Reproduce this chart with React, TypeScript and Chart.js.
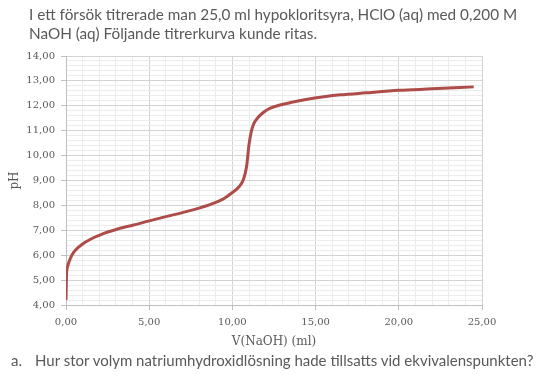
import React, { useEffect, useRef } from "react";
import { Chart, registerables } from "chart.js";

Chart.register(...registerables);

const volumes: number[] = [0, 0.03, 0.1, 0.25, 0.5, 1.0, 1.5, 2.0, 2.5, 3.0, 3.5, 4.0, 5.0, 6.0, 7.0, 8.0, 9.0, 9.5, 10.0, 10.4, 10.65, 10.85, 11.0, 11.15, 11.3, 11.5, 11.8, 12.2, 12.8, 13.5, 14.5, 15.5, 16.5, 18.0, 20.0, 22.0, 24.5];
const phValues: number[] = [4.2, 5.2, 5.55, 5.85, 6.15, 6.45, 6.65, 6.8, 6.93, 7.03, 7.12, 7.2, 7.38, 7.55, 7.71, 7.89, 8.12, 8.28, 8.52, 8.75, 9.02, 9.55, 10.45, 11.0, 11.3, 11.5, 11.7, 11.88, 12.02, 12.13, 12.26, 12.36, 12.44, 12.52, 12.62, 12.68, 12.76];

const xMin = 0, xMax = 25, xMajor = 5, xMinor = 1;
const yMin = 4, yMax = 14, yMajor = 1, yMinor = 0.2;

const titleLines = [
  "I ett försök titrerade man 25,0 ml hypokloritsyra, HClO (aq) med 0,200 M",
  "NaOH (aq) Följande titrerkurva kunde ritas.",
];
const xTitle = "V(NaOH) (ml)";
const yTitle = "pH";
const questionLabel = "a.";
const questionText = "Hur stor volym natriumhydroxidlösning hade tillsatts vid ekvivalenspunkten?";

const fmt = (v: number) => v.toFixed(2).replace(".", ",");
const isMajor = (v: number, step: number) => Math.abs(v / step - Math.round(v / step)) < 1e-6;

const MAJOR = "#d4d4d4";
const MINOR = "#ececec";
const AXIS = "#bfbfbf";
const TEXT = "#595959";
const SERIF = "'DejaVu Serif', serif";

export default function App() {
  const ref = useRef<HTMLCanvasElement | null>(null);

  useEffect(() => {
    if (!ref.current) return;
    const chart = new Chart(ref.current, {
      type: "line",
      data: {
        datasets: [
          {
            data: volumes.map((v, i) => ({ x: v, y: phValues[i] })),
            borderColor: "#ad4c49",
            borderWidth: 3,
            pointRadius: 0,
            cubicInterpolationMode: "monotone",
            fill: false,
          },
        ],
      },
      options: {
        animation: false,
        responsive: false,
        layout: { padding: { top: 56, right: 56, bottom: 24, left: 0 } },
        plugins: { legend: { display: false }, tooltip: { enabled: false } },
        scales: {
          x: {
            type: "linear",
            min: xMin,
            max: xMax,
            afterFit: (s: any) => { s.height = 48; },
            afterBuildTicks: (s: any) => {
              const t = [];
              for (let v = xMin; v <= xMax + 1e-9; v += xMinor) t.push({ value: Math.round(v * 1000) / 1000 });
              s.ticks = t;
            },
            ticks: {
              autoSkip: false,
              maxRotation: 0,
              padding: 6,
              color: TEXT,
              font: { family: SERIF, size: 10 },
              callback: (v: any) => (isMajor(Number(v), xMajor) ? fmt(Number(v)) : ""),
            },
            grid: {
              color: (c: any) => (isMajor(c.tick?.value ?? 0, xMajor) ? MAJOR : MINOR),
              tickColor: (c: any) => (isMajor(c.tick?.value ?? 0, xMajor) ? AXIS : "rgba(0,0,0,0)"),
              tickLength: 5,
            },
            border: { display: true, color: AXIS },
            title: {
              display: true,
              text: xTitle,
              color: TEXT,
              font: { family: SERIF, size: 12 },
              padding: { top: 0, bottom: 4 },
            },
          },
          y: {
            type: "linear",
            min: yMin,
            max: yMax,
            afterFit: (s: any) => { s.width = 66; },
            afterBuildTicks: (s: any) => {
              const t = [];
              for (let i = 0; i <= Math.round((yMax - yMin) / yMinor); i++) t.push({ value: Math.round((yMin + i * yMinor) * 1000) / 1000 });
              s.ticks = t;
            },
            ticks: {
              autoSkip: false,
              padding: 6,
              color: TEXT,
              font: { family: SERIF, size: 10 },
              callback: (v: any) => (isMajor(Number(v), yMajor) ? fmt(Number(v)) : ""),
            },
            grid: {
              color: (c: any) => (isMajor(c.tick?.value ?? 0, yMajor) ? MAJOR : MINOR),
              tickColor: (c: any) => (isMajor(c.tick?.value ?? 0, yMajor) ? AXIS : "rgba(0,0,0,0)"),
              tickLength: 5,
            },
            border: { display: true, color: AXIS },
            title: {
              display: true,
              text: yTitle,
              color: TEXT,
              font: { family: SERIF, size: 12 },
              padding: { top: 8, bottom: 0 },
            },
          },
        },
      },
    });
    return () => chart.destroy();
  }, []);

  const textStyle: React.CSSProperties = {
    position: "absolute",
    whiteSpace: "nowrap",
    fontFamily: "Lato, 'Open Sans', sans-serif",
    fontSize: 15,
    color: TEXT,
    lineHeight: "20px",
  };

  return (
    <div style={{ position: "absolute", left: 0, top: 0, width: 538, height: 377, background: "#fff", overflow: "hidden" }}>
      <canvas ref={ref} width={538} height={377} style={{ position: "absolute", left: 0, top: 0 }} />
      <div style={{ ...textStyle, fontSize: 15.3, left: 29, top: 4 }}>{titleLines[0]}</div>
      <div style={{ ...textStyle, fontSize: 15.3, left: 29, top: 23 }}>{titleLines[1]}</div>
      <div style={{ ...textStyle, left: 11, top: 350 }}>{questionLabel}</div>
      <div style={{ ...textStyle, left: 35, top: 350 }}>{questionText}</div>
    </div>
  );
}
